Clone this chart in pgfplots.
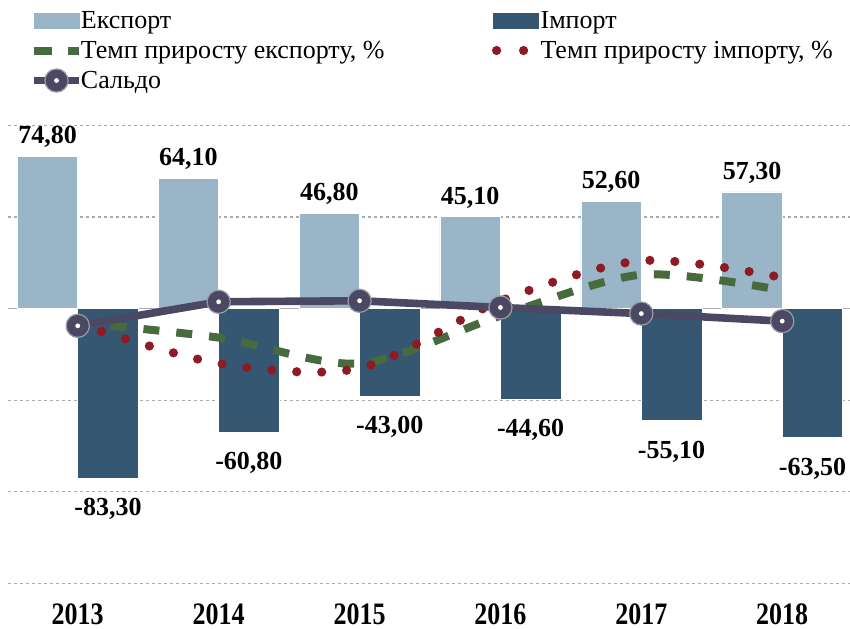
\documentclass[border=0pt]{standalone}
\usepackage{pgfplots}
\pgfplotsset{compat=1.18}
\usepackage{pgfplotstable}
\usepackage{graphicx}
\usepackage{fontspec}
\setmainfont{Liberation Serif}

\definecolor{expc}{HTML}{9AB4C8}
\definecolor{impc}{HTML}{355771}
\definecolor{grc}{HTML}{476B3E}
\definecolor{rdc}{HTML}{8E1B24}
\definecolor{salc}{HTML}{4A4862}
\definecolor{gridc}{HTML}{ABABAB}

\pgfdeclareplotmark{saldomark}{%
  \pgfpathcircle{\pgfpointorigin}{\pgfplotmarksize}%
  \pgfusepathqfillstroke
  \pgfscope
  \pgfsetfillcolor{white}%
  \pgfpathcircle{\pgfpointorigin}{1.2pt}%
  \pgfusepathqfill
  \endpgfscope
}

\pgfplotsset{saldolegend/.style={legend image code/.code={%
  \draw[salc, line width=3.8pt, mark=saldomark, mark size=5.8pt,
  mark options={solid, fill=salc, draw=salc!55!white, line width=0.6pt},
  mark repeat=2, mark phase=2] plot coordinates {(0pt,0pt) (11.25pt,0pt) (22.5pt,0pt)};}}}

\pgfplotstableread{
x exp imp gexp gimp sal
0 74.8 -83.3 -7.0 -7.5 -8.5
1 64.1 -60.8 -14.3 -27.0 3.3
2 46.8 -43.0 -27.0 -29.3 3.8
3 45.1 -44.6 -3.6 3.7 0.5
4 52.6 -55.1 16.6 23.5 -2.5
5 57.3 -63.5 8.9 15.2 -6.2
}\datatable

\begin{document}
\begin{tikzpicture}
\begin{axis}[
  at={(4pt,22.35pt)}, anchor=south west,
  scale only axis, width=421pt, height=229pt,
  xmin=-0.495, xmax=5.481, ymin=-135, ymax=90,
  axis line style={draw=none},
  tick style={draw=none},
  xtick={0,1,2,3,4,5},
  xticklabels={\scalebox{1}[1.2]{2013},\scalebox{1}[1.2]{2014},\scalebox{1}[1.2]{2015},\scalebox{1}[1.2]{2016},\scalebox{1}[1.2]{2017},\scalebox{1}[1.2]{2018}},
  xticklabel style={font=\fontsize{13}{15}\selectfont\bfseries, yshift=-6.5pt},
  ytick={-135,-90,-45,45,90}, yticklabels={},
  ymajorgrids,
  grid style={gridc, line width=0.6pt, dash pattern=on 1.5pt off 1.5pt},
  extra y ticks={0}, extra y tick labels={},
  extra y tick style={grid style={solid, draw=gray!65, line width=0.8pt}},
  clip=false,
  legend columns=2,
  legend cell align=left,
  legend style={at={(0.02613,1.2598)}, anchor=north west, draw=none, fill=none,
    inner sep=0pt, outer sep=0pt, column sep=-1pt, row sep=0.8pt,
    font=\fontsize{13}{15}\selectfont,
    nodes={inner sep=0pt, text height=11.2pt, text depth=3pt}},
]
\addplot[ybar, bar width=0.4295, bar shift=-0.2148, fill=expc, draw=white, line width=0.3pt,
  point meta=y,
  nodes near coords={\pgfmathprintnumber[fixed,fixed zerofill,precision=2,use comma,assume math mode=true]{\pgfplotspointmeta}},
  nodes near coords style={font=\fontsize{13}{15}\selectfont\bfseries, anchor=south, text=black, yshift=0.8pt, xshift=-15.1pt},
  legend image code/.code={\fill[expc] (0pt,-3.75pt) rectangle (22.5pt,3.75pt);}]
  table[x=x,y=exp]{\datatable};
\addlegendentry{\makebox[206.5pt][l]{Експорт}}
\addplot[ybar, bar width=0.4295, bar shift=0.2148, fill=impc, draw=white, line width=0.3pt,
  point meta=y,
  nodes near coords={\pgfmathprintnumber[fixed,fixed zerofill,precision=2,use comma,assume math mode=true]{\pgfplotspointmeta}},
  nodes near coords style={font=\fontsize{13}{15}\selectfont\bfseries, anchor=north, text=black, yshift=-6.6pt, xshift=15.1pt},
  legend image code/.code={\fill[impc] (0pt,-3.75pt) rectangle (22.5pt,3.75pt);}]
  table[x=x,y=imp]{\datatable};
\addlegendentry{Імпорт}
\addplot[grc, line width=4pt, dash pattern=on 8pt off 8.5pt, smooth,
  legend image code/.code={\draw[grc, line width=4pt, dash pattern=on 9pt off 8pt] (0pt,0pt)--(22.5pt,0pt);}]
  table[x=x,y=gexp]{\datatable};
\addlegendentry{Темп приросту експорту, \%}
\addplot[rdc, line width=4.6pt, line cap=round, dash pattern=on 0pt off 12.5pt, smooth,
  legend image code/.code={\draw[rdc, line width=4.6pt, line cap=round, dash pattern=on 0pt off 13.5pt] (1.8pt,0pt)--(22.5pt,0pt);}]
  table[x=x,y=gimp]{\datatable};
\addlegendentry{Темп приросту імпорту, \%}
\addplot[salc, line width=3.8pt, mark=saldomark, mark size=5.8pt,
  mark options={solid, fill=salc, draw=salc!55!white, line width=0.6pt},
  saldolegend]
  table[x=x,y=sal]{\datatable};
\addlegendentry{Сальдо}
\end{axis}
\pgfresetboundingbox
\path[use as bounding box] (0,0) rectangle (425pt,314pt);
\end{tikzpicture}
\end{document}
